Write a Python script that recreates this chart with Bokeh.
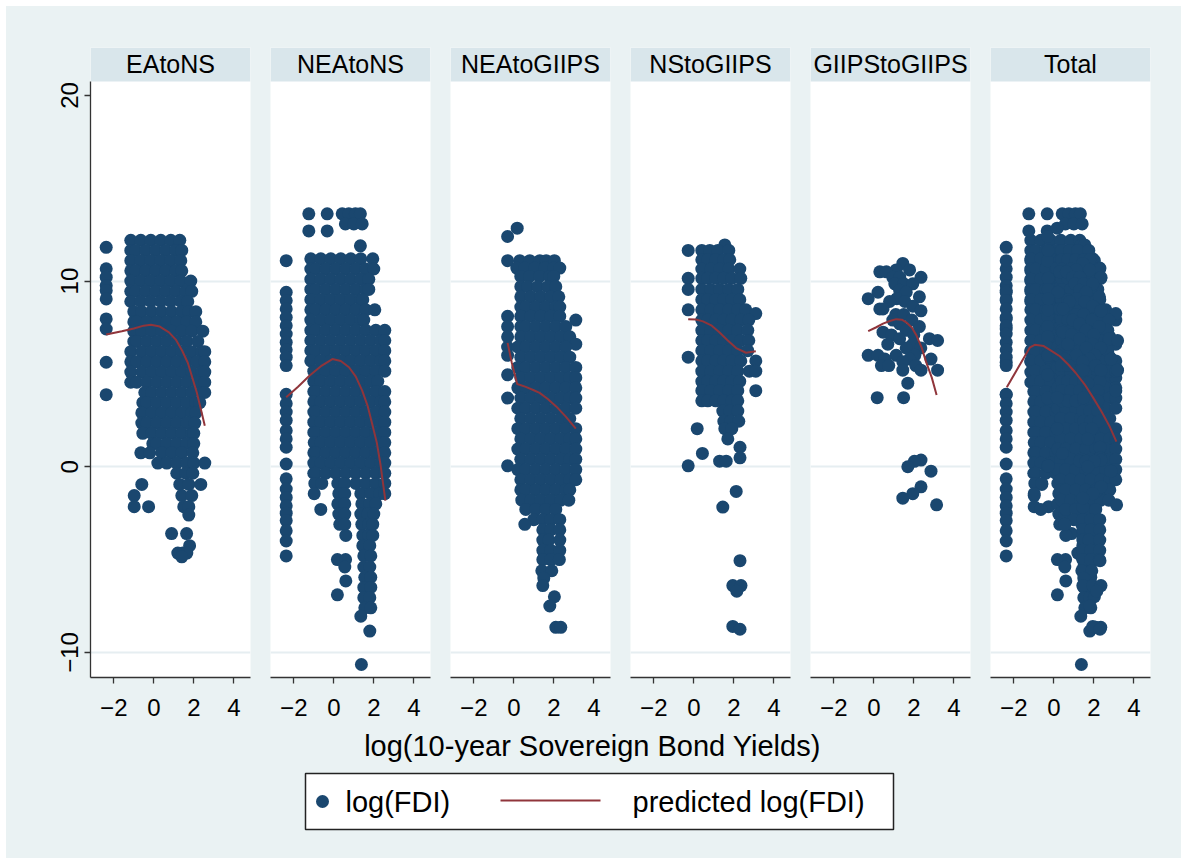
from bokeh.plotting import figure
from bokeh.models import Range1d, FixedTicker, BoxAnnotation
from bokeh.layouts import row, column
from bokeh.embed import file_html
from bokeh.resources import INLINE
from bokeh.core.properties import value

# ---------------- data ----------------
PANELS = ["EAtoNS", "NEAtoNS", "NEAtoGIIPS", "NStoGIIPS", "GIIPStoGIIPS", "Total"]
X_TICKS = [-2, 0, 2, 4]
Y_TICKS = [-10, 0, 10, 20]
X_TITLE = "log(10-year Sovereign Bond Yields)"
LEGEND_LABELS = ["log(FDI)", "predicted log(FDI)"]

# rows of observed points: (log(FDI), [log(yield) values])
EA_ROWS = [
    (11.82, [-2.38]), (10.66, [-2.38]), (10.21, [-2.38]), (9.76, [-2.38]), (9.49, [-2.38]),
    (9.04, [-2.38]), (7.96, [-2.38]), (7.42, [-2.38]), (5.63, [-2.38]), (3.88, [-2.38]),
    (12.2, [-1.15, -0.65, -0.15, 0.35, 0.85, 1.3]),
    (11.65, [-1.15, -0.9, -0.4, 0.1, 0.6, 1.1, 1.4]),
    (11.1, [-1.15, -0.65, -0.15, 0.35, 0.85, 1.35]),
    (10.55, [-1.15, -0.9, -0.4, 0.1, 0.6, 1.1, 1.4]),
    (10.0, [-1.15, -0.65, -0.15, 0.35, 0.85, 1.35, 1.85]),
    (9.45, [-1.15, -0.9, -0.4, 0.1, 0.6, 1.1, 1.6, 1.9]),
    (8.9, [-1.15, -0.65, -0.15, 0.35, 0.85, 1.35, 1.7]),
    (8.35, [-1.0, -0.6, -0.1, 0.4, 0.9, 1.4, 1.75, 2.1]),
    (7.8, [-1.0, -0.85, -0.35, 0.15, 0.65, 1.15, 1.65, 2.1]),
    (7.3, [-1.0, -0.6, -0.1, 0.4, 0.9, 1.4, 1.9, 2.45]),
    (6.75, [-1.0, -0.85, -0.35, 0.15, 0.65, 1.15, 1.65, 2.2]),
    (6.2, [-1.15, -0.6, -0.1, 0.4, 0.9, 1.4, 1.9, 2.4, 2.55]),
    (5.65, [-1.15, -0.85, -0.35, 0.15, 0.65, 1.15, 1.65, 2.15, 2.55]),
    (5.1, [-1.15, -0.6, -0.1, 0.4, 0.9, 1.4, 1.9, 2.4, 2.55]),
    (4.55, [-1.15, -0.85, -0.35, 0.15, 0.65, 1.15, 1.65, 2.15, 2.55]),
    (4.0, [-0.45, -0.1, 0.4, 0.9, 1.4, 1.9, 2.4, 2.55]),
    (3.45, [-0.55, -0.35, 0.15, 0.65, 1.15, 1.65, 2.1, 2.3]),
    (2.9, [-0.6, -0.1, 0.4, 0.9, 1.4, 1.9, 2.1]),
    (2.35, [-0.6, -0.35, 0.15, 0.65, 1.15, 1.65, 2.05]),
    (1.8, [-0.55, -0.1, 0.4, 0.9, 1.4, 1.9, 2.0]),
    (1.25, [-0.05, 0.15, 0.65, 1.15, 1.65, 2.0]),
    (0.75, [-0.65, -0.2, 0.4, 0.9, 1.4, 1.95]),
    (0.2, [0.2, 0.65, 1.15, 1.65, 2.0, 2.55]),
    (-0.35, [1.15, 1.6, 1.95]),
    (-0.95, [-0.6, 1.3, 1.75, 2.35]),
    (-1.55, [-0.98, 1.4, 1.9]),
    (-2.15, [-0.98, -0.26, 1.5, 1.75]),
    (-2.6, [1.75]),
    (-3.6, [0.89, 1.64]),
    (-4.25, [1.79]),
    (-4.65, [1.2, 1.45, 1.65]),
    (-4.85, [1.4]),
]
EA_FIT_X = [-2.38, -1.6, -1.0, -0.5, -0.15, 0.3, 0.76, 1.1, 1.42, 1.7, 1.92, 2.15, 2.33, 2.55]
EA_FIT_Y = [7.12, 7.3, 7.45, 7.6, 7.65, 7.55, 7.24, 6.85, 6.25, 5.6, 4.82, 4.0, 3.2, 2.21]

NEA_NS_ROWS = [
    (11.1, [-2.38]), (9.4, [-2.38]), (8.95, [-2.38]), (8.5, [-2.38]), (8.05, [-2.38]),
    (7.6, [-2.38]), (7.15, [-2.38]), (6.7, [-2.38]), (6.3, [-2.38]), (5.9, [-2.38]),
    (5.45, [-2.38]), (3.9, [-2.38]), (3.4, [-2.38]), (2.95, [-2.38]), (2.5, [-2.38]),
    (1.95, [-2.38]), (1.5, [-2.38]), (1.05, [-2.38]), (0.15, [-2.38]), (-0.65, [-2.38]),
    (-1.2, [-2.38]), (-1.65, [-2.38]), (-2.1, [-2.38]), (-2.5, [-2.38]), (-2.9, [-2.38]),
    (-3.45, [-2.38]), (-4.0, [-2.38]), (-4.8, [-2.38]),
    (13.62, [-1.25, -0.33, 0.42, 0.75, 1.08, 1.33]),
    (13.08, [0.58, 1.0, 1.42]),
    (12.7, [-1.25, -0.33]),
    (11.9, [1.33]),
    (11.2, [-1.15, -0.65, -0.15, 0.35, 0.85, 1.35, 1.95]),
    (10.65, [-1.15, -0.9, -0.4, 0.1, 0.6, 1.1, 1.6, 2.0]),
    (10.1, [-1.15, -0.65, -0.15, 0.35, 0.85, 1.35, 1.75]),
    (9.55, [-1.15, -0.9, -0.4, 0.1, 0.6, 1.1, 1.6, 1.75]),
    (9.0, [-1.15, -0.65, -0.15, 0.35, 0.85, 1.35, 1.45]),
    (8.45, [-1.15, -0.9, -0.4, 0.1, 0.6, 1.1, 1.6, 2.05]),
    (7.9, [-1.15, -0.65, -0.15, 0.35, 0.85, 1.35, 1.5]),
    (7.35, [-1.15, -0.9, -0.4, 0.1, 0.6, 1.1, 1.6, 2.1, 2.55]),
    (6.8, [-1.15, -0.65, -0.15, 0.35, 0.85, 1.35, 1.85, 2.35, 2.55]),
    (6.25, [-1.15, -0.9, -0.4, 0.1, 0.6, 1.1, 1.6, 2.1, 2.55]),
    (5.7, [-1.15, -0.65, -0.15, 0.35, 0.85, 1.35, 1.85, 2.35, 2.55]),
    (5.15, [-1.0, -0.9, -0.4, 0.1, 0.6, 1.1, 1.6, 2.1, 2.55]),
    (4.6, [-1.0, -0.65, -0.15, 0.35, 0.85, 1.35, 1.85, 2.2]),
    (4.05, [-1.0, -0.9, -0.4, 0.1, 0.6, 1.1, 1.6, 2.1, 2.55]),
    (3.5, [-1.0, -0.65, -0.15, 0.35, 0.85, 1.35, 1.85, 2.35, 2.55]),
    (2.95, [-1.0, -0.9, -0.4, 0.1, 0.6, 1.1, 1.6, 2.1, 2.55]),
    (2.4, [-1.0, -0.65, -0.15, 0.35, 0.85, 1.35, 1.85, 2.35, 2.55]),
    (1.85, [-1.0, -0.9, -0.4, 0.1, 0.6, 1.1, 1.6, 2.1, 2.55]),
    (1.3, [-0.98, -0.65, -0.15, 0.35, 0.85, 1.35, 1.85, 2.35, 2.55]),
    (0.75, [-1.0, -0.9, -0.4, 0.1, 0.6, 1.1, 1.6, 2.1, 2.55]),
    (0.2, [-1.0, -0.65, -0.15, 0.35, 0.85, 1.35, 1.85, 2.35, 2.55]),
    (-0.35, [-1.0, -0.9, -0.4, 0.1, 0.6, 1.1, 1.6, 2.1, 2.55]),
    (-0.9, [-0.95, -0.6, 0.2, 0.55, 1.1, 1.6, 2.1, 2.55]),
    (-1.45, [-0.98, 0.25, 0.55, 1.35, 1.85, 2.3, 2.55]),
    (-2.0, [0.2, 0.55, 1.4, 1.8, 2.1]),
    (-2.3, [-0.65]),
    (-2.55, [0.25, 0.55, 1.35, 1.7, 2.0]),
    (-3.1, [0.3, 0.55, 1.4, 1.75, 1.95]),
    (-3.7, [0.6, 1.45, 1.75, 1.95]),
    (-4.25, [1.45, 1.8]),
    (-4.8, [1.5, 1.85]),
    (-5.0, [0.18, 0.59]),
    (-5.4, [0.55, 1.5, 1.8]),
    (-5.95, [1.55, 1.85]),
    (-6.15, [0.6]),
    (-6.5, [1.5, 1.85]),
    (-6.9, [0.18]),
    (-7.05, [1.5, 1.8]),
    (-7.6, [1.55, 1.85]),
    (-8.05, [1.35]),
    (-8.85, [1.8]),
    (-10.65, [1.38]),
]
NEA_NS_FIT_X = [-2.38, -1.8, -1.22, -0.6, -0.07, 0.35, 0.76, 1.1, 1.42, 1.7, 1.92, 2.15, 2.33, 2.45, 2.58]
NEA_NS_FIT_Y = [3.74, 4.3, 4.9, 5.45, 5.8, 5.7, 5.36, 4.85, 4.1, 3.25, 2.3, 1.3, 0.15, -0.8, -1.83]

NEA_GI_ROWS = [
    (12.85, [0.17]), (12.4, [-0.31]),
    (11.1, [-0.31, 0.3, 0.8, 1.3, 1.62, 2.03]),
    (10.7, [0.15, 0.55, 1.05, 1.55, 2.0, 2.3]),
    (10.25, [0.35, 0.8, 1.3, 1.8, 2.0]),
    (9.7, [0.35, 0.7, 1.2, 1.7, 2.1]),
    (9.15, [0.35, 0.85, 1.35, 1.85, 2.25]),
    (8.6, [0.35, 0.6, 1.1, 1.6, 2.1, 2.3]),
    (8.1, [-0.31, 0.35, 0.85, 1.35, 1.85, 2.3]),
    (7.9, [3.1]),
    (7.55, [-0.31, 0.35, 0.6, 1.1, 1.6, 2.1, 2.6]),
    (7.0, [-0.31, 0.35, 0.85, 1.35, 1.85, 2.35, 2.8]),
    (6.6, [3.1]),
    (6.45, [-0.31, 0.2, 0.6, 1.1, 1.6, 2.1, 2.6]),
    (6.0, [-0.31]),
    (5.9, [0.35, 0.85, 1.35, 1.85, 2.35, 2.8]),
    (5.35, [0.2, 0.6, 1.1, 1.6, 2.1, 2.6, 3.1]),
    (4.95, [-0.31]),
    (4.8, [0.35, 0.85, 1.35, 1.85, 2.35, 2.8, 3.1]),
    (4.25, [0.2, 0.6, 1.1, 1.6, 2.1, 2.6, 3.1]),
    (3.7, [-0.31, 0.35, 0.85, 1.35, 1.85, 2.35, 2.8, 3.1]),
    (3.15, [0.2, 0.6, 1.1, 1.6, 2.1, 2.6, 3.1]),
    (2.6, [0.35, 0.85, 1.35, 1.85, 2.35, 2.8]),
    (2.05, [0.2, 0.6, 1.1, 1.6, 2.1, 2.6, 3.1]),
    (1.5, [0.35, 0.85, 1.35, 1.85, 2.35, 2.8, 3.1]),
    (0.95, [0.2, 0.6, 1.1, 1.6, 2.1, 2.6, 3.1]),
    (0.4, [0.35, 0.85, 1.35, 1.85, 2.35, 2.8, 3.1]),
    (0.05, [-0.31]),
    (-0.15, [0.2, 0.6, 1.1, 1.6, 2.1, 2.6, 3.1]),
    (-0.7, [0.35, 0.85, 1.35, 1.85, 2.35, 2.8, 3.1]),
    (-1.25, [0.35, 0.6, 1.1, 1.6, 2.1, 2.6, 2.8]),
    (-1.8, [0.4, 0.85, 1.35, 1.85, 2.35, 2.75]),
    (-2.3, [0.6, 1.1, 1.6, 2.1]),
    (-2.85, [1.0, 1.45, 1.85, 2.3]),
    (-3.1, [0.55]),
    (-3.4, [1.45, 1.85, 2.3]),
    (-3.95, [1.45, 1.75, 2.3]),
    (-4.5, [1.45, 1.85, 2.3]),
    (-5.0, [1.45, 1.85, 2.28]),
    (-5.6, [1.4, 1.9]),
    (-6.0, [1.5]),
    (-6.4, [1.45]),
    (-7.0, [2.03]),
    (-7.5, [1.8]),
    (-8.65, [2.1, 2.35]),
]
NEA_GI_FIT_X = [-0.31, -0.1, 0.17, 0.6, 1.0, 1.29, 1.7, 2.12, 2.6, 3.1]
NEA_GI_FIT_Y = [6.67, 5.6, 4.46, 4.3, 4.12, 3.98, 3.65, 3.25, 2.7, 2.05]

NS_GI_ROWS = [
    (11.95, [1.55]),
    (11.65, [-0.28, 0.4, 0.8, 1.2, 1.75]),
    (11.15, [0.4, 0.7, 1.1, 1.5, 1.8]),
    (10.65, [0.4, 0.85, 1.3, 1.75, 2.3]),
    (10.15, [-0.28, 0.4, 0.7, 1.1, 1.5, 1.9, 2.35]),
    (9.55, [-0.28, 0.4, 0.85, 1.3, 1.75, 2.2]),
    (9.0, [0.4, 0.7, 1.1, 1.5, 1.9, 2.3]),
    (8.45, [-0.28, 0.4, 0.85, 1.3, 1.75, 2.2, 2.6]),
    (8.25, [3.1]),
    (7.9, [0.4, 0.7, 1.1, 1.5, 1.9, 2.35, 2.75]),
    (7.35, [0.4, 0.85, 1.3, 1.75, 2.2, 2.7]),
    (6.8, [0.4, 0.7, 1.1, 1.5, 1.9, 2.35, 2.75]),
    (6.25, [0.4, 0.85, 1.3, 1.75, 2.2, 2.7]),
    (5.9, [-0.28]),
    (5.7, [0.4, 0.7, 1.1, 1.5, 1.9, 2.35, 3.1]),
    (5.15, [0.4, 0.85, 1.3, 1.75, 2.2, 2.78, 3.1]),
    (4.6, [0.4, 0.7, 1.1, 1.5, 1.9, 2.3]),
    (4.1, [0.4, 0.85, 1.3, 1.75, 2.2, 3.1]),
    (3.55, [0.4, 0.7, 1.1, 1.5, 1.9, 2.2]),
    (3.0, [1.45, 1.8, 2.2]),
    (2.45, [1.5, 1.85, 2.25]),
    (2.05, [0.17, 1.55, 1.9]),
    (1.5, [1.7]),
    (1.05, [2.31]),
    (0.72, [0.43]),
    (0.48, [2.31]),
    (0.3, [1.29, 1.62]),
    (0.05, [-0.28]),
    (-1.33, [2.12]), (-2.17, [1.45]), (-5.06, [2.31]),
    (-6.4, [1.95, 2.36]), (-6.7, [2.15]),
    (-8.6, [1.95]), (-8.75, [2.31]),
]
NS_GI_FIT_X = [-0.28, 0.1, 0.46, 0.9, 1.29, 1.7, 2.12, 2.61, 3.1]
NS_GI_FIT_Y = [7.95, 7.93, 7.83, 7.6, 7.23, 6.8, 6.39, 6.14, 6.22]

GI_GI_ROWS = [
    (10.95, [1.45]),
    (10.6, [1.12, 1.79]),
    (10.5, [0.3, 0.63]),
    (10.2, [0.95, 1.3, 2.36]),
    (9.85, [1.05, 1.5, 1.95]),
    (9.5, [1.29]),
    (9.4, [0.21, 1.62]),
    (9.15, [2.28]),
    (9.05, [-0.28, 1.15]),
    (8.9, [0.79, 1.55]),
    (8.65, [1.95]),
    (8.5, [0.3, 0.46]),
    (8.4, [2.36]),
    (8.2, [1.1, 1.5]),
    (7.9, [0.95, 1.9]),
    (7.7, [1.29]),
    (7.55, [2.28]),
    (7.35, [1.62]),
    (7.25, [0.46]),
    (7.1, [0.88, 2.0]),
    (6.9, [1.29, 2.78]),
    (6.8, [3.19]),
    (6.6, [0.7, 1.95]),
    (6.4, [1.62, 2.35]),
    (6.0, [-0.28, 0.21, 1.12, 2.05]),
    (5.8, [0.55, 1.79, 2.86]),
    (5.65, [1.45]),
    (5.45, [0.38, 0.75, 2.1]),
    (5.2, [1.45, 2.36, 3.19]),
    (4.5, [1.7]),
    (3.72, [0.17, 1.49]),
    (0.36, [2.36]), (0.29, [2.03]), (0.0, [1.7]), (-0.24, [2.86]),
    (-1.08, [2.36]), (-1.45, [1.95]), (-1.69, [1.45]), (-2.05, [3.14]),
]
GI_GI_FIT_X = [-0.28, 0.1, 0.46, 0.8, 1.12, 1.4, 1.62, 1.9, 2.12, 2.4, 2.61, 2.9, 3.14]
GI_GI_FIT_Y = [7.3, 7.5, 7.71, 7.85, 7.95, 7.92, 7.78, 7.5, 7.1, 6.4, 5.66, 4.8, 3.86]

TOTAL_FIT_X = [-2.35, -1.8, -1.19, -0.95, -0.5, -0.12, 0.3, 0.71, 1.1, 1.54, 1.95, 2.37, 2.8, 3.13]
TOTAL_FIT_Y = [4.28, 5.3, 6.43, 6.57, 6.5, 6.24, 5.95, 5.52, 5.05, 4.44, 3.75, 3.0, 2.15, 1.35]

# the Total panel shows every observation of the five groups
PANEL_ROWS = [EA_ROWS, NEA_NS_ROWS, NEA_GI_ROWS, NS_GI_ROWS, GI_GI_ROWS,
              EA_ROWS + NEA_NS_ROWS + NEA_GI_ROWS + NS_GI_ROWS + GI_GI_ROWS]
PANEL_FITS = [(EA_FIT_X, EA_FIT_Y), (NEA_NS_FIT_X, NEA_NS_FIT_Y), (NEA_GI_FIT_X, NEA_GI_FIT_Y),
              (NS_GI_FIT_X, NS_GI_FIT_Y), (GI_GI_FIT_X, GI_GI_FIT_Y), (TOTAL_FIT_X, TOTAL_FIT_Y)]

# ---------------- style ----------------
FONT = "Liberation Sans"
BG = "#EAF2F3"
STRIP = "#D9E6EB"
NAVY = "#1A476F"
MAROON = "#90353B"
AXIS = "#333333"

X_LO, X_HI = -3.165, 4.835
Y_LO, Y_HI = -11.35, 22.58
STRIP_BOTTOM = 20.75


def expand(rows):
    xs, ys = [], []
    for yv, xlist in rows:
        for xv in xlist:
            xs.append(xv)
            ys.append(yv)
    return xs, ys


figs = []
n = len(PANELS)
for i, name in enumerate(PANELS):
    first = i == 0
    last = i == n - 1
    w = 254 if first else (201 if last else 180)
    p = figure(width=w, height=721,
               x_range=Range1d(X_LO, X_HI), y_range=Range1d(Y_LO, Y_HI),
               output_backend="svg", toolbar_location=None,
               y_axis_location="left" if first else None,
               min_border_left=84 if first else 10,
               min_border_right=31 if last else 10,
               min_border_top=41, min_border_bottom=50,
               background_fill_color="white", border_fill_color=BG,
               outline_line_color=None)
    p.xgrid.visible = False
    p.ygrid.ticker = FixedTicker(ticks=[-10, 0, 10])
    p.ygrid.grid_line_color = "#E6EEF1"
    p.ygrid.grid_line_width = 2

    strip = BoxAnnotation(bottom=STRIP_BOTTOM, fill_color=STRIP, fill_alpha=1.0,
                          line_color=None, level="underlay")
    p.add_layout(strip)
    p.text(x=[(X_LO + X_HI) / 2], y=[(STRIP_BOTTOM + Y_HI) / 2], text=[name],
           text_align="center", text_baseline="middle",
           text_font=value(FONT), text_font_size="25px", text_color="black")

    xs, ys = expand(PANEL_ROWS[i])
    p.scatter(xs, ys, size=13, fill_color=NAVY, line_color=None)
    fx, fy = PANEL_FITS[i]
    p.line(fx, fy, line_color=MAROON, line_width=2)

    ax = p.xaxis[0]
    ax.ticker = FixedTicker(ticks=X_TICKS)
    ax.axis_line_color = AXIS
    ax.axis_line_width = 1.3
    ax.major_tick_line_color = AXIS
    ax.major_tick_line_width = 1.3
    ax.major_tick_out = 6
    ax.major_tick_in = 0
    ax.minor_tick_line_color = None
    ax.major_label_text_font = FONT
    ax.major_label_text_font_size = "24px"
    ax.major_label_text_color = "black"
    ax.major_label_standoff = 15

    if first:
        ay = p.yaxis[0]
        ay.ticker = FixedTicker(ticks=Y_TICKS)
        ay.bounds = (Y_LO, STRIP_BOTTOM)
        ay.axis_line_color = AXIS
        ay.axis_line_width = 1.3
        ay.major_tick_line_color = AXIS
        ay.major_tick_line_width = 1.3
        ay.major_tick_out = 6
        ay.major_tick_in = 0
        ay.minor_tick_line_color = None
        ay.major_label_orientation = "vertical"
        ay.major_label_text_font = FONT
        ay.major_label_text_font_size = "24px"
        ay.major_label_text_color = "black"
        ay.major_label_standoff = 6
    figs.append(p)

# ---------------- bottom: axis title + legend ----------------
pb = figure(width=1175, height=131, x_range=Range1d(0, 1175), y_range=Range1d(131, 0),
            output_backend="svg", toolbar_location=None,
            x_axis_location=None, y_axis_location=None, min_border=0,
            background_fill_color=BG, border_fill_color=BG, outline_line_color=None)
pb.grid.visible = False
pb.text(x=[586], y=[18], text=[X_TITLE], text_align="center", text_baseline="middle",
        text_font=value(FONT), text_font_size="29px", text_color="black")
pb.quad(left=[299], right=[887], top=[46], bottom=[102], fill_color="white",
        line_color="#222222", line_width=1.5)
pb.scatter([316], [74], size=13, fill_color=NAVY, line_color=None)
pb.text(x=[339], y=[74], text=[LEGEND_LABELS[0]], text_align="left", text_baseline="middle",
        text_font=value(FONT), text_font_size="29px", text_color="black")
pb.line([494, 594], [73, 73], line_color=MAROON, line_width=2)
pb.text(x=[626], y=[74], text=[LEGEND_LABELS[1]], text_align="left", text_baseline="middle",
        text_font=value(FONT), text_font_size="29px", text_color="black")

layout = column(row(*figs, styles={"background-color": BG}), pb,
                styles={"background-color": BG}, margin=(6, 0, 0, 6))
open("out.html", "w").write(file_html(layout, INLINE))
